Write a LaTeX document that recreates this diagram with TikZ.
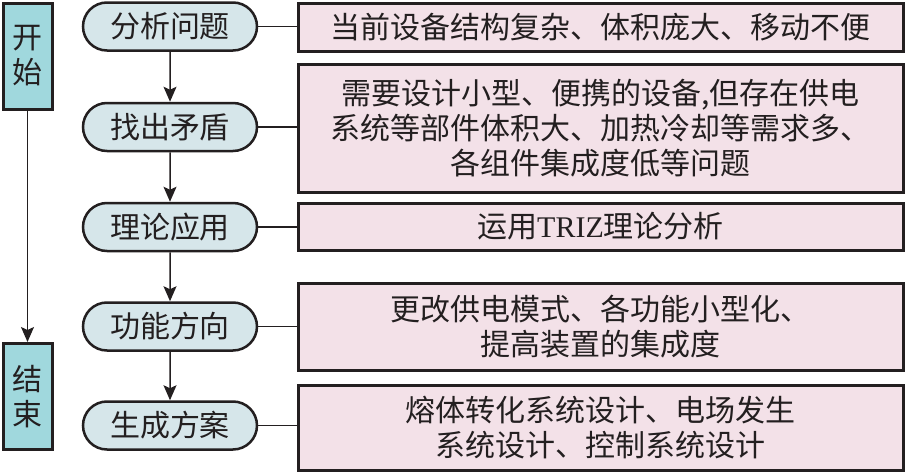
\documentclass[tikz,border=0pt]{standalone}
\usepackage{fontspec}
\setmainfont{Noto Sans CJK SC}
\newfontfamily\latinfont{Liberation Serif}
\usetikzlibrary{shapes.misc,arrows.meta}
\definecolor{endcol}{HTML}{A0D8DD}
\definecolor{stepcol}{HTML}{D6E6EA}
\definecolor{notecol}{HTML}{F3E1E8}
\definecolor{linecol}{HTML}{231F20}
\tikzset{
    txt/.style={font=\fontsize{30pt}{35pt}\selectfont,align=center,text=linecol},
    endbox/.style={txt,draw=linecol,line width=3pt,fill=endcol,minimum width=49pt,minimum height=106pt,inner sep=0pt},
    stepbox/.style={txt,rounded rectangle,draw=linecol,line width=2.5pt,fill=stepcol,minimum width=174pt,minimum height=48pt,inner sep=0pt},
    notebox/.style={txt,draw=linecol,line width=3pt,fill=notecol,minimum width=605pt,inner sep=0pt},
    flow/.style={draw=linecol,line width=1.5pt,-{Stealth[length=15pt,width=13pt,inset=3pt]}},
    link/.style={draw=linecol,line width=1.5pt}
}
\begin{document}
\begin{tikzpicture}[x=1pt,y=-1pt]
        \useasboundingbox (0,0) rectangle (906,474);
        %% start and end
        \node[endbox] (start) at (27.5,56) {开\\始};
        \node[endbox] (end) at (27.5,396.5) {结\\束};
        \draw[flow] (start) -- (end);
        %% steps
        \node[stepbox] (analyse) at (170,26.5) {分析问题};
        \node[stepbox] (conflict) at (170,127) {找出矛盾};
        \node[stepbox] (theory) at (170,227) {理论应用};
        \node[stepbox] (function) at (170,326.5) {功能方向};
        \node[stepbox] (scheme) at (170,425.5) {生成方案};
        \draw[flow] (analyse) -- (conflict);
        \draw[flow] (conflict) -- (theory);
        \draw[flow] (theory) -- (function);
        \draw[flow] (function) -- (scheme);
        %% notes
        \node[notebox,minimum height=48pt] (n1) at (600.5,27) {当前设备结构复杂、体积庞大、移动不便};
        \node[notebox,minimum height=128pt] (n2) at (600.5,128) {需要设计小型、便携的设备,但存在供电\\系统等部件体积大、加热冷却等需求多、\\各组件集成度低等问题};
        \node[notebox,minimum height=47pt] (n3) at (600.5,226.5) {运用{\latinfont TRIZ}理论分析};
        \node[notebox,minimum height=87pt] (n4) at (600.5,326.5) {更改供电模式、各功能小型化、\\提高装置的集成度};
        \node[notebox,minimum height=85pt] (n5) at (600.5,427.5) {熔体转化系统设计、电场发生\\系统设计、控制系统设计};
        \draw[link] (analyse.east) -- (analyse.east -| n1.west);
        \draw[link] (conflict.east) -- (conflict.east -| n2.west);
        \draw[link] (theory.east) -- (theory.east -| n3.west);
        \draw[link] (function.east) -- (function.east -| n4.west);
        \draw[link] (scheme.east) -- (scheme.east -| n5.west);
    \end{tikzpicture}
\end{document}
